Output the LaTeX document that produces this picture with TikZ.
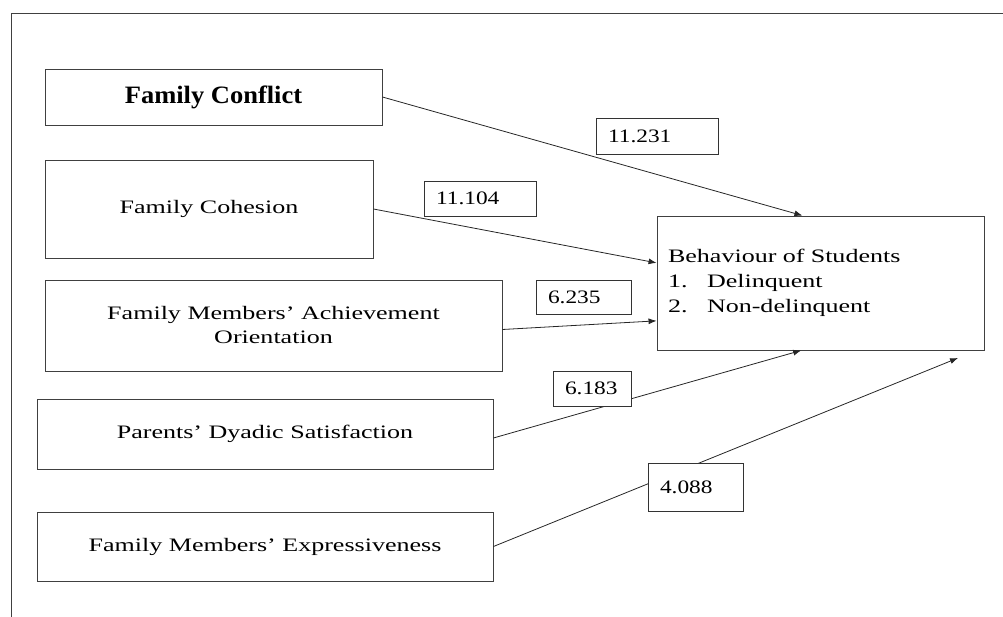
\documentclass[tikz,border=0pt]{standalone}
\usepackage{fontspec}
\setmainfont{Liberation Serif}[FakeStretch=1.37]
\newfontfamily\headfont{Liberation Serif}[FakeStretch=1.06]
\newfontfamily\numfont{Liberation Serif}[FakeStretch=1.23]
\usetikzlibrary{arrows.meta}
\tikzset{
    varbox/.style={draw=black!75,line width=0.9pt,align=center,inner sep=0pt,font=\fontsize{19}{24}\selectfont},
    numbox/.style={draw=black!80,line width=0.9pt,fill=white,align=left,inner xsep=12pt,inner ysep=0pt,font=\numfont\fontsize{19}{22}\selectfont},
    link/.style={draw=black!85,line width=0.8pt,-{Latex[length=8pt,width=6pt]}}
}
\begin{document}
\begin{tikzpicture}[x=1pt,y=-1pt]
    \useasboundingbox (0,0) rectangle (1003,617);
    % frame
    \draw[black!75,line width=0.9pt] (1003,13) -| (11,617);
    % the five family variables
    \node[varbox,minimum width=337pt,minimum height=56pt,font=\headfont\bfseries\fontsize{25}{28}\selectfont] (conf) at (213.5,97) {Family Conflict};
    \node[varbox,minimum width=328pt,minimum height=98pt] (coh) at (209,209) {Family Cohesion};
    \node[varbox,minimum width=457pt,minimum height=91pt] (ach) at (273.5,325.5) {Family Members' Achievement\\Orientation};
    \node[varbox,minimum width=456pt,minimum height=70pt] (dya) at (265,434) {Parents' Dyadic Satisfaction};
    \node[varbox,minimum width=456pt,minimum height=69pt] (expr) at (265,546.5) {Family Members' Expressiveness};
    % outcome
    \node[varbox,align=left,text width=305pt,inner xsep=11pt,minimum height=134pt,font=\fontsize{19}{25}\selectfont] (beh) at (820.5,283) {Behaviour of Students\\\makebox[39pt][l]{1.}Delinquent\\\makebox[39pt][l]{2.}Non-delinquent};
    % arrows
    \coordinate (tipE) at (958,358);
    \draw[link] (conf.east) -- (beh.105.4);
    \draw[link] (coh.east) -- (beh.173.7);
    \draw[link] (ach.-1) -- (beh.193.4);
    \draw[link] (dya.-1.5) -- (beh.254.6);
    \draw[link] (expr.east) -- (tipE);
    % weights
    \foreach \nm/\cx/\cy/\tw/\h/\val in {w1/657/136/98pt/36pt/11.231, w2/480/198.5/88pt/35pt/11.104, w3/583.5/297/71pt/34pt/6.235, w4/592/388.5/54pt/35pt/6.183, w5/695.5/487/71pt/48pt/4.088} {
        \node[numbox,text width=\tw,minimum height=\h] (\nm) at (\cx,\cy) {\val};
    }
\end{tikzpicture}
\end{document}
